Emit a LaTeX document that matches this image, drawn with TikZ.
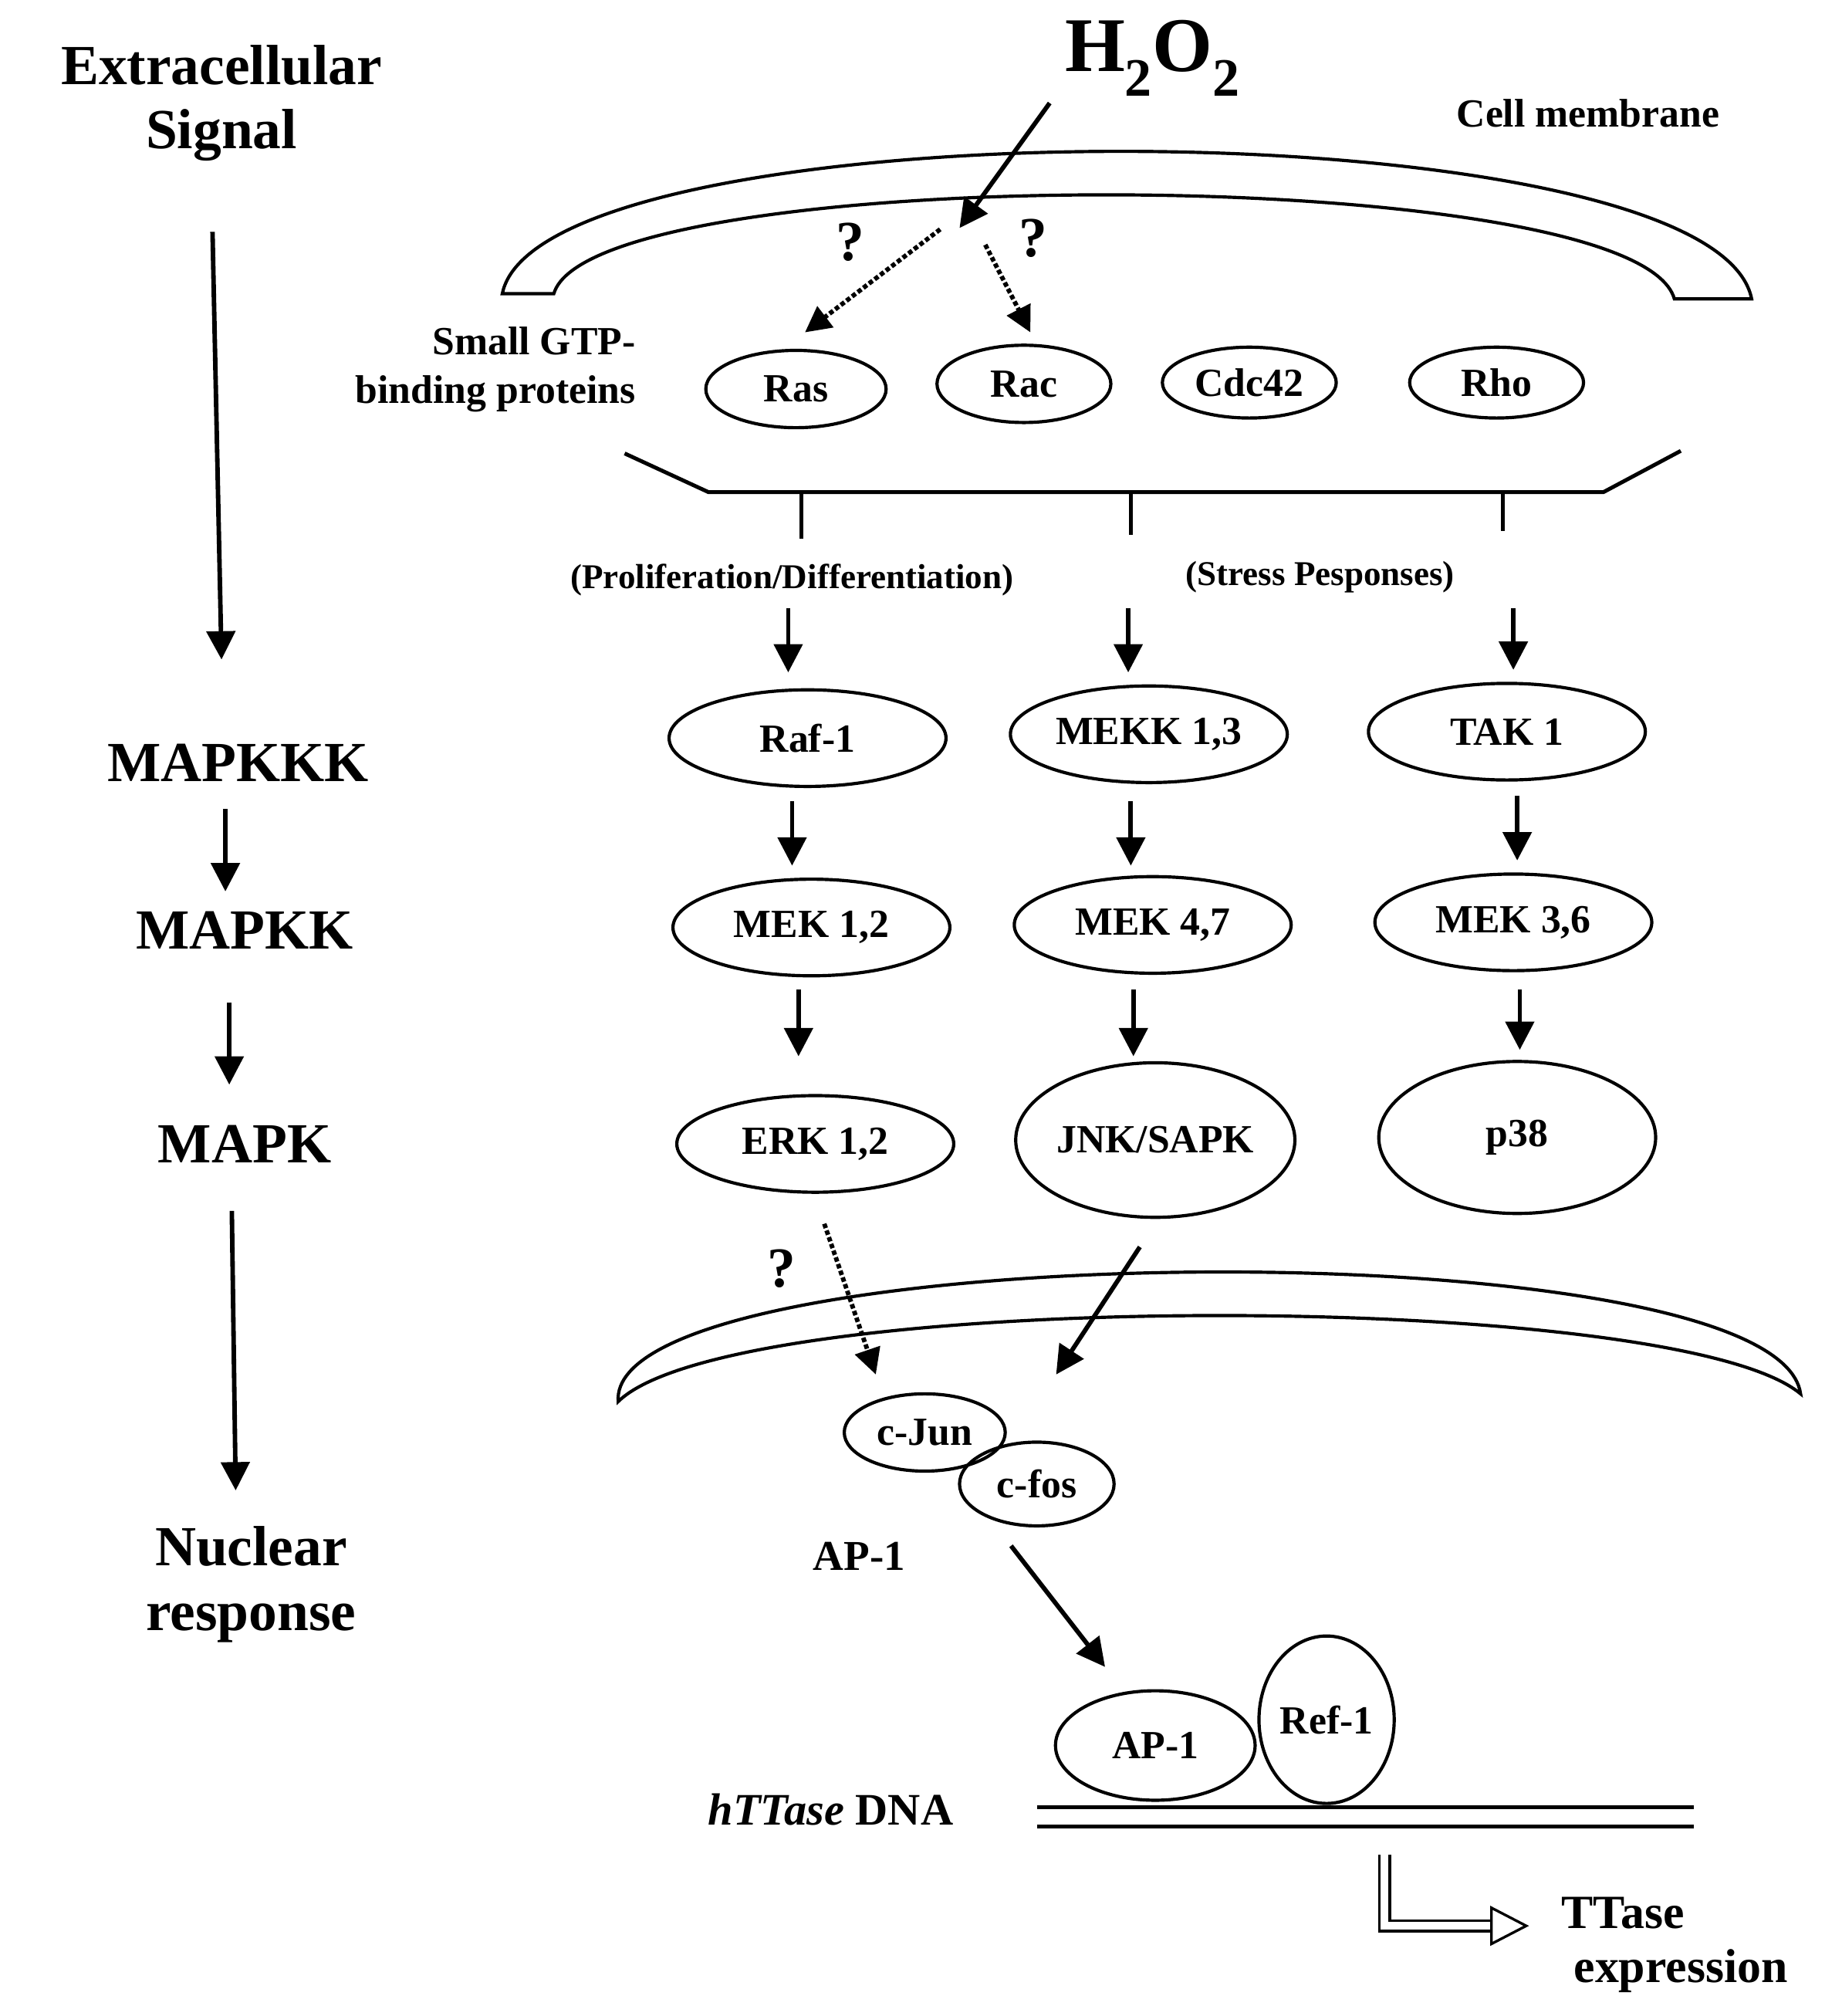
\documentclass[tikz,border=0pt]{standalone}
\usepackage{fontspec}
\setmainfont{Liberation Serif}
\usetikzlibrary{arrows.meta,shapes.geometric}
\begin{document}
\begin{tikzpicture}[x=1pt,y=-1pt,
 big/.style={font=\fontsize{44}{50}\selectfont\bfseries,align=center},
 lab/.style={font=\fontsize{44}{46}\selectfont\bfseries,align=center},
 sml/.style={font=\fontsize{27}{30}\selectfont\bfseries},
 ov/.style={draw,ellipse,line width=2.5pt,inner sep=0pt,font=\fontsize{31}{33}\selectfont\bfseries},
 arr/.style={line width=3.5pt,-{Triangle[length=22pt,width=22pt]}},
 darr/.style={line width=3.5pt,dotted,-{Triangle[length=20pt,width=20pt]}},
 thk/.style={line width=3pt}]
\useasboundingbox (0,0) rectangle (1430,1565);
% left column
\node[big] (ext) at (172,80) {Extracellular\\Signal};
\node[big] (mkkk) at (185,592) {MAPKKK};
\node[big] (mkk) at (190,722) {MAPKK};
\node[big] (mk) at (190,888) {MAPK};
\node[big] (nuc) at (195,1230) {Nuclear\\response};
\coordinate (l1) at (165,180); \coordinate (l2) at (172,512);
\draw[arr] (l1) -- (l2);
\coordinate (l3) at (175,628); \coordinate (l4) at (175,692);
\draw[arr] (l3) -- (l4);
\coordinate (l5) at (178,778); \coordinate (l6) at (178,842);
\draw[arr] (l5) -- (l6);
\coordinate (l7) at (180,940); \coordinate (l8) at (183,1157);
\draw[arr] (l7) -- (l8);
% top
\node[font=\fontsize{60}{62}\selectfont\bfseries] (h2o2) at (895,45) {H$_\mathbf{2}$O$_\mathbf{2}$};
\node[font=\fontsize{31}{33}\selectfont\bfseries] (cm) at (1233,88) {Cell membrane};
\draw[line width=2.5pt] (390,228) .. controls (420,80) and (1330,80) .. (1360,232) -- (1300,232) .. controls (1270,125) and (460,125) .. (430,228) -- cycle;
\coordinate (h1) at (815,80); \coordinate (h2) at (745,177);
\draw[arr] (h1) -- (h2);
\coordinate (d1) at (730,178); \coordinate (d2) at (625,258);
\coordinate (d3) at (765,190); \coordinate (d4) at (800,258);
\draw[darr] (d1) -- (d2);
\draw[darr] (d3) -- (d4);
\node[lab] (q1) at (660,188) {?};
\node[lab] (q2) at (802,185) {?};
\node[lab,align=right,anchor=east,font=\fontsize{31}{38}\selectfont\bfseries] (gtp) at (497,287) {Small GTP-\\binding proteins};
\node[ov,minimum width=140pt,minimum height=60pt] (ras) at (618,302) {Ras};
\node[ov,minimum width=135pt,minimum height=60pt] (rac) at (795,298) {Rac};
\node[ov,minimum width=135pt,minimum height=55pt] (cdc) at (970,297) {Cdc42};
\node[ov,minimum width=135pt,minimum height=55pt] (rho) at (1162,297) {Rho};
\draw[thk] (485,352) -- (550,382) -- (1245,382) -- (1305,350);
\draw[thk] (622,382) -- (622,418) (878,382) -- (878,415) (1167,382) -- (1167,412);
\node[sml] (pd) at (615,450) {(Proliferation/Differentiation)};
\node[sml] (sr) at (1025,448) {(Stress Pesponses)};
% columns
\node[ov,minimum width=215pt,minimum height=75pt] (raf) at (627,573) {Raf-1};
\node[ov,minimum width=215pt,minimum height=75pt] (mekk) at (892,570) {MEKK 1,3};
\node[ov,minimum width=215pt,minimum height=75pt] (tak) at (1170,568) {TAK 1};
\node[ov,minimum width=215pt,minimum height=75pt] (mek12) at (630,720) {MEK 1,2};
\node[ov,minimum width=215pt,minimum height=75pt] (mek47) at (895,718) {MEK 4,7};
\node[ov,minimum width=215pt,minimum height=75pt] (mek36) at (1175,716) {MEK 3,6};
\node[ov,minimum width=215pt,minimum height=75pt] (erk) at (633,888) {ERK 1,2};
\node[ov,minimum width=215pt,minimum height=120pt] (jnk) at (897,885) {JNK/SAPK};
\node[ov,minimum width=215pt,minimum height=118pt] (p38) at (1178,883) {p38};
\foreach \x/\a/\b/\n in {612/472/522/a,876/472/522/b,1175/472/520/c,615/622/672/d,878/622/672/e,1178/618/668/f,620/768/820/g,880/768/820/h,1180/768/815/i}{
 \coordinate (s\n) at (\x,\a); \coordinate (t\n) at (\x,\b);
 \draw[arr] (s\n) -- (t\n);}
% nuclear membrane
\draw[line width=2.5pt] (480,1088) .. controls (470,960) and (1380,950) .. (1398,1082) .. controls (1300,1000) and (570,1000) .. (480,1088) -- cycle;
\coordinate (e1) at (640,950); \coordinate (e2) at (680,1067);
\draw[darr] (e1) -- (e2);
\node[lab] (q3) at (607,985) {?};
\coordinate (j1) at (885,968); \coordinate (j2) at (820,1067);
\draw[arr] (j1) -- (j2);
\node[ov,minimum width=125pt,minimum height=60pt] (cjun) at (718,1112) {c-Jun};
\node[ov,minimum width=120pt,minimum height=65pt] (cfos) at (805,1152) {c-fos};
\node[font=\fontsize{33}{35}\selectfont\bfseries] (ap1l) at (667,1208) {AP-1};
\coordinate (k1) at (785,1200); \coordinate (k2) at (858,1294);
\draw[arr] (k1) -- (k2);
\node[ov,minimum width=155pt,minimum height=85pt] (ap1) at (897,1355) {AP-1};
\node[ov,minimum width=105pt,minimum height=130pt] (ref) at (1030,1335) {Ref-1};
\coordinate (n1) at (805,1403); \coordinate (n2) at (1315,1403);
\coordinate (n3) at (805,1418); \coordinate (n4) at (1315,1418);
\draw[thk] (n1) -- (n2) (n3) -- (n4);
\node[font=\fontsize{35}{37}\selectfont\bfseries] (dna) at (645,1405) {\textit{hTTase} DNA};
\draw[line width=2pt,double,double distance=6pt] (1075,1440) -- (1075,1495) -- (1160,1495);
\draw[line width=2pt,fill=white] (1158,1481) -- (1185,1495) -- (1158,1509) -- cycle;
\node[font=\fontsize{37}{39}\selectfont\bfseries] (tt) at (1260,1485) {TTase};
\node[font=\fontsize{37}{39}\selectfont\bfseries] (ex) at (1305,1530) {expression};
\end{tikzpicture}
\end{document}
